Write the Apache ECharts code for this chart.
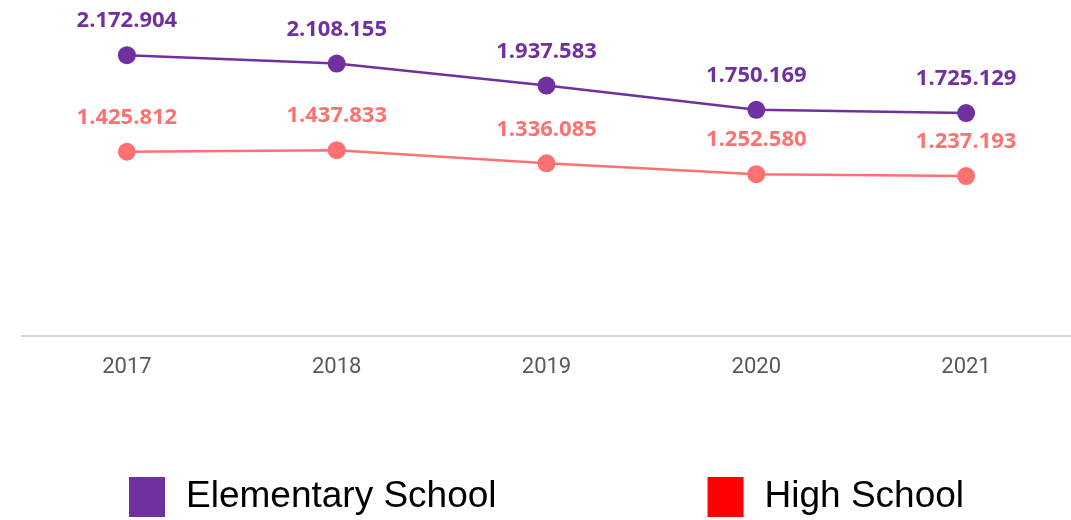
<!DOCTYPE html>
<html>
<head>
<meta charset="utf-8">
<script src="https://cdn.jsdelivr.net/npm/echarts@6/dist/echarts.min.js"></script>
<style>
    html, body {margin: 0; padding: 0; background: #fff;}
    #chart {width: 1071px; height: 520px;}
</style>
</head>
<body>
<div id="chart"></div>
<script>
// years on the x axis
var years = ['2017', '2018', '2019', '2020', '2021'];
// enrolment per year
var elementary = [2172904, 2108155, 1937583, 1750169, 1725129];
var highSchool = [1425812, 1437833, 1336085, 1252580, 1237193];
var seriesNames = ['Elementary School', 'High School'];

// 2.172.904 style
function fmt(v) {
    return String(v).replace(/\B(?=(\d{3})+(?!\d))/g, '.');
}

function lineSeries(name, data, color) {
    return {
        name: name,
        type: 'line',
        data: data,
        symbol: 'circle',
        symbolSize: 18,
        lineStyle: {color: color, width: 2.5},
        itemStyle: {color: color},
        label: {
            show: true,
            position: 'top',
            distance: 14,
            color: color,
            fontFamily: 'Open Sans',
            fontWeight: 'bold',
            fontSize: 22,
            formatter: function (p) {
                return fmt(p.value);
            }
        }
    };
}

var myChart = echarts.init(document.getElementById('chart'));
myChart.setOption({
    animation: false,
    grid: {left: 22, right: 0, top: 0, bottom: 184},
    xAxis: {
        type: 'category',
        data: years,
        boundaryGap: true,
        axisLine: {lineStyle: {color: '#d9d9d9', width: 2}},
        axisTick: {show: false},
        axisLabel: {
            margin: 20,
            color: '#595959',
            fontFamily: 'Roboto',
            fontSize: 22
        }
    },
    yAxis: {
        type: 'value',
        min: 0,
        max: 2600000,
        show: false,
        splitLine: {show: false}
    },
    legend: {
        left: 129,
        top: 477,
        padding: 0,
        itemWidth: 36,
        itemHeight: 40,
        itemGap: 211,
        icon: 'rect',
        textStyle: {
            fontFamily: '"Liberation Sans", Arial, sans-serif',
            fontSize: 37,
            color: '#000',
            padding: [6, 0, 0, 16]
        },
        data: [
            {name: seriesNames[0], itemStyle: {color: '#7030A0'}},
            {name: seriesNames[1], itemStyle: {color: '#FF0000'}}
        ]
    },
    series: [
        lineSeries(seriesNames[0], elementary, '#7030A0'),
        lineSeries(seriesNames[1], highSchool, '#FF7171')
    ]
});
</script>
</body>
</html>
